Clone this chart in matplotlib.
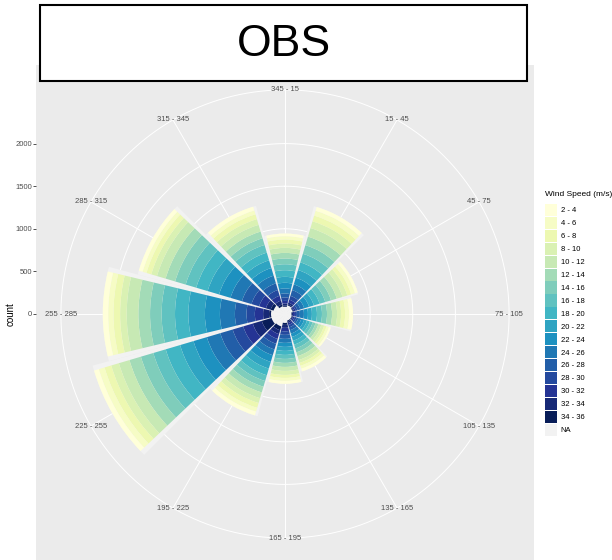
import numpy as np
import matplotlib
matplotlib.use("Agg")
import matplotlib.pyplot as plt
from matplotlib.patches import Patch, Rectangle

plt.rcParams["font.family"] = ["Liberation Sans", "DejaVu Sans"]

# Direction sectors (30 degree bins) and their centres (compass degrees)
directions = ["345 - 15", "15 - 45", "45 - 75", "75 - 105", "105 - 135", "135 - 165",
              "165 - 195", "195 - 225", "225 - 255", "255 - 285", "285 - 315", "315 - 345"]
dir_centers = [0, 30, 60, 90, 120, 150, 180, 210, 240, 270, 300, 330]

# Wind speed classes (m/s)
speed_bins = ["2 - 4", "4 - 6", "6 - 8", "8 - 10", "10 - 12", "12 - 14", "14 - 16",
              "16 - 18", "18 - 20", "20 - 22", "22 - 24", "24 - 26", "26 - 28",
              "28 - 30", "30 - 32", "32 - 34", "34 - 36"]
speed_colors = ["#FFFFD9", "#F6FCC5", "#EDF8B1", "#DAF1B3", "#C7E9B4", "#A3DBB7",
                "#7FCDBB", "#60C2C0", "#41B6C4", "#2FA4C2", "#1D91C0", "#2078B4",
                "#225EA8", "#24499E", "#253494", "#172976", "#081D58"]
na_color = "#F2F2F2"

# Counts per speed class (2-4 ... 34-36) for each direction sector
n_345_15 = [32, 39, 47, 51, 59, 66, 67, 70, 78, 70, 66, 59, 47, 40, 30, 23, 16]
n_15_45 = [47, 59, 70, 82, 105, 105, 105, 105, 94, 94, 82, 70, 70, 47, 35, 23, 12]
n_45_75 = [35, 47, 47, 59, 70, 70, 70, 70, 70, 59, 59, 47, 35, 23, 18, 12, 6]
n_75_105 = [47, 47, 47, 47, 59, 59, 59, 59, 59, 47, 47, 47, 35, 23, 23, 12, 6]
n_105_135 = [23, 29, 29, 35, 35, 35, 35, 35, 35, 35, 35, 35, 23, 23, 18, 12, 6]
n_135_165 = [35, 35, 35, 35, 47, 47, 47, 47, 47, 47, 41, 41, 35, 29, 23, 18, 12]
n_165_195 = [35, 35, 35, 47, 47, 47, 47, 47, 47, 47, 47, 47, 47, 41, 41, 35, 23]
n_195_225 = [47, 47, 59, 59, 70, 70, 70, 70, 82, 82, 82, 70, 70, 59, 59, 47, 47]
n_225_255 = [59, 70, 82, 94, 129, 140, 152, 152, 176, 164, 164, 164, 152, 129, 117, 110, 120]
n_255_285 = [64, 62, 78, 77, 137, 137, 136, 157, 156, 195, 176, 176, 136, 98, 97, 70, 23]
n_285_315 = [47, 47, 59, 70, 105, 117, 129, 129, 140, 140, 140, 140, 117, 94, 82, 59, 35]
n_315_345 = [47, 47, 59, 70, 82, 82, 82, 94, 94, 94, 94, 94, 82, 70, 59, 47, 23]
# Records with speed below 2 m/s (no speed class -> NA)
n_na = [85, 105, 94, 76, 82, 82, 105, 152, 164, 164, 140, 94]

counts = np.array([n_345_15, n_15_45, n_45_75, n_75_105, n_105_135, n_135_165,
                   n_165_195, n_195_225, n_225_255, n_255_285, n_285_315, n_315_345]).T
na_counts = np.array(n_na)
totals = counts.sum(axis=0) + na_counts

W, H = 612, 560


def fig_box(x0, y0, w, h):
    return [x0 / W, 1 - (y0 + h) / H, w / W, h / H]


fig = plt.figure(figsize=(W / 100, H / 100), dpi=100)
fig.patch.set_facecolor("white")

panel = fig_box(36, 65, 498, 498)
r_top = totals.max() / 0.4 * 0.5      # bars reach 0.4 of the panel width
r_lab = totals.max() / 0.4 * 0.45     # outer circle and direction labels

# Cartesian axes: grey panel and the count axis
axy = fig.add_axes(panel)
axy.set_facecolor("#EBEBEB")
axy.set_xlim(-1, 1)
axy.set_ylim(-r_top, r_top)
axy.set_xticks([])
axy.set_yticks([0, 500, 1000, 1500, 2000])
axy.tick_params(axis="y", labelsize=5.5, labelcolor="#4D4D4D", color="#333333",
                length=2.2, width=0.6, pad=0.8)
for s in axy.spines.values():
    s.set_visible(False)
axy.set_ylabel("count", fontsize=7)
axy.yaxis.set_label_coords(-0.040, 0.5)

# Polar axes for the rose
ax = fig.add_axes(panel, projection="polar")
ax.set_facecolor("none")
ax.spines["polar"].set_visible(False)
ax.set_theta_zero_location("N")
ax.set_theta_direction(-1)
ax.set_ylim(0, r_top)
ax.grid(False)
ax.set_xticks([])
ax.set_yticks([])

theta = np.deg2rad(dir_centers)
tfine = np.linspace(0, 2 * np.pi, 400)
for r in [500, 1000, 1500, 2000, r_lab]:
    ax.plot(tfine, np.full_like(tfine, r), color="white", lw=0.7, zorder=1)
for t in theta:
    ax.plot([t, t], [0, r_lab], color="white", lw=0.7, zorder=1)

sector = np.deg2rad(30)
ax.bar(theta, totals, width=sector, bottom=0, color=na_color, edgecolor="none",
       linewidth=0, zorder=1.5)

# Stack: NA innermost, then fastest to slowest outward
bottom = np.zeros(len(theta))
ax.bar(theta, na_counts, width=0.9 * sector, bottom=bottom, color=na_color,
       edgecolor="none", linewidth=0, zorder=2)
bottom = bottom + na_counts
for i in range(len(speed_bins) - 1, -1, -1):
    ax.bar(theta, counts[i], width=0.9 * sector, bottom=bottom, color=speed_colors[i],
           edgecolor="none", linewidth=0, zorder=2)
    bottom = bottom + counts[i]

for t, lab in zip(theta, directions):
    ax.text(t, r_lab, lab, ha="center", va="center", fontsize=5.5, color="#4D4D4D",
            zorder=3)

# Legend (title placed separately for a wider gap above the keys)
handles = [Patch(facecolor=c, edgecolor="none") for c in speed_colors] + \
          [Patch(facecolor=na_color, edgecolor="none")]
labels = speed_bins + ["NA"]
leg = fig.legend(handles, labels, loc="upper left",
                 bbox_to_anchor=(545 / W, 1 - 204 / H), frameon=False,
                 fontsize=5.5, handlelength=1.55, handleheight=2.07,
                 labelspacing=0.1, handletextpad=0.5, borderpad=0,
                 borderaxespad=0)
fig.text(545 / W, 1 - 195 / H, "Wind Speed (m/s)", ha="left", va="center",
         fontsize=6, color="black")

# Title box
bx = fig_box(40, 5, 487, 76)
fig.add_artist(Rectangle((bx[0], bx[1]), bx[2], bx[3], transform=fig.transFigure,
                         facecolor="white", edgecolor="black", linewidth=1.5,
                         zorder=10))
fig.text(bx[0] + bx[2] / 2, bx[1] + bx[3] / 2 - 2 / H, "OBS", ha="center",
         va="center", fontsize=32, color="black", zorder=11)

fig.savefig("out.png", dpi=100)
